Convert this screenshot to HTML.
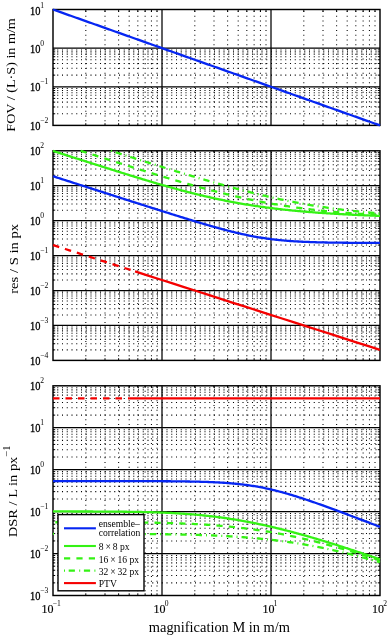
<!DOCTYPE html>
<html><head><meta charset="utf-8"><style>
html,body{margin:0;padding:0;background:#fff;}
body{width:388px;height:635px;overflow:hidden;}
svg{display:block;will-change:transform;}
text{font-family:"Liberation Serif",serif;fill:#000;}
.tk{font-size:12px;}
.sup{font-size:7.6px;}
.tkb{stroke:#000;stroke-width:0.3px;}
.tkb2{stroke:#000;stroke-width:0.15px;}
.sup2{font-size:9.5px;}
.lg{font-size:9.6px;}
.al{font-size:14.5px;}
.al2{font-size:12.8px;}
.al2b{font-size:13.2px;}
.al3{font-size:13.6px;}
</style></head><body>
<svg width="388" height="635" viewBox="0 0 388 635">
<rect width="388" height="635" fill="#fff"/>
<defs>
<clipPath id="c0"><rect x="50" y="6.5" width="333" height="121.9"/></clipPath>
<clipPath id="c1"><rect x="50" y="147.8" width="333" height="215.6"/></clipPath>
<clipPath id="c2"><rect x="50" y="382.8" width="333" height="215.7"/></clipPath>
</defs>
<path d="M85.81 125.4 V9.5 M105.01 125.4 V9.5 M118.62 125.4 V9.5 M129.19 125.4 V9.5 M137.82 125.4 V9.5 M145.12 125.4 V9.5 M151.44 125.4 V9.5 M157.01 125.4 V9.5 M194.81 125.4 V9.5 M214.01 125.4 V9.5 M227.62 125.4 V9.5 M238.19 125.4 V9.5 M246.82 125.4 V9.5 M254.12 125.4 V9.5 M260.44 125.4 V9.5 M266.01 125.4 V9.5 M303.81 125.4 V9.5 M323.01 125.4 V9.5 M336.62 125.4 V9.5 M347.19 125.4 V9.5 M355.82 125.4 V9.5 M363.12 125.4 V9.5 M369.44 125.4 V9.5 M375.01 125.4 V9.5" stroke="#000" stroke-width="1.05" stroke-dasharray="1.05 3.7" stroke-dashoffset="0.525" fill="none"/>
<path d="M53 75.14 H380 M53 68.33 H380 M53 63.51 H380 M53 59.76 H380 M53 56.7 H380 M53 54.12 H380 M53 51.88 H380 M53 49.9 H380 M53 113.77 H380 M53 106.97 H380 M53 102.14 H380 M53 98.4 H380 M53 95.34 H380 M53 92.75 H380 M53 90.51 H380 M53 88.53 H380" stroke="#000" stroke-width="1.05" stroke-dasharray="1.05 3.7" stroke-dashoffset="0.525" fill="none"/>
<path d="M162 125.4 V9.5 M271 125.4 V9.5 M53 48.13 H380 M53 86.77 H380" stroke="#000" stroke-width="1.25" fill="none"/>
<path d="M85.81 9.5 v2.2 M85.81 125.4 v-2.2 M105.01 9.5 v2.2 M105.01 125.4 v-2.2 M118.62 9.5 v2.2 M118.62 125.4 v-2.2 M129.19 9.5 v2.2 M129.19 125.4 v-2.2 M137.82 9.5 v2.2 M137.82 125.4 v-2.2 M145.12 9.5 v2.2 M145.12 125.4 v-2.2 M151.44 9.5 v2.2 M151.44 125.4 v-2.2 M157.01 9.5 v2.2 M157.01 125.4 v-2.2 M194.81 9.5 v2.2 M194.81 125.4 v-2.2 M214.01 9.5 v2.2 M214.01 125.4 v-2.2 M227.62 9.5 v2.2 M227.62 125.4 v-2.2 M238.19 9.5 v2.2 M238.19 125.4 v-2.2 M246.82 9.5 v2.2 M246.82 125.4 v-2.2 M254.12 9.5 v2.2 M254.12 125.4 v-2.2 M260.44 9.5 v2.2 M260.44 125.4 v-2.2 M266.01 9.5 v2.2 M266.01 125.4 v-2.2 M303.81 9.5 v2.2 M303.81 125.4 v-2.2 M323.01 9.5 v2.2 M323.01 125.4 v-2.2 M336.62 9.5 v2.2 M336.62 125.4 v-2.2 M347.19 9.5 v2.2 M347.19 125.4 v-2.2 M355.82 9.5 v2.2 M355.82 125.4 v-2.2 M363.12 9.5 v2.2 M363.12 125.4 v-2.2 M369.44 9.5 v2.2 M369.44 125.4 v-2.2 M375.01 9.5 v2.2 M375.01 125.4 v-2.2 M53 75.14 h2.2 M380 75.14 h-2.2 M53 68.33 h2.2 M380 68.33 h-2.2 M53 63.51 h2.2 M380 63.51 h-2.2 M53 59.76 h2.2 M380 59.76 h-2.2 M53 56.7 h2.2 M380 56.7 h-2.2 M53 54.12 h2.2 M380 54.12 h-2.2 M53 51.88 h2.2 M380 51.88 h-2.2 M53 49.9 h2.2 M380 49.9 h-2.2 M53 113.77 h2.2 M380 113.77 h-2.2 M53 106.97 h2.2 M380 106.97 h-2.2 M53 102.14 h2.2 M380 102.14 h-2.2 M53 98.4 h2.2 M380 98.4 h-2.2 M53 95.34 h2.2 M380 95.34 h-2.2 M53 92.75 h2.2 M380 92.75 h-2.2 M53 90.51 h2.2 M380 90.51 h-2.2 M53 88.53 h2.2 M380 88.53 h-2.2" stroke="#000" stroke-width="1" fill="none"/>
<rect x="53" y="9.5" width="327" height="115.9" fill="none" stroke="#000" stroke-width="1.45"/>
<path d="M85.81 360.4 V150.8 M105.01 360.4 V150.8 M118.62 360.4 V150.8 M129.19 360.4 V150.8 M137.82 360.4 V150.8 M145.12 360.4 V150.8 M151.44 360.4 V150.8 M157.01 360.4 V150.8 M194.81 360.4 V150.8 M214.01 360.4 V150.8 M227.62 360.4 V150.8 M238.19 360.4 V150.8 M246.82 360.4 V150.8 M254.12 360.4 V150.8 M260.44 360.4 V150.8 M266.01 360.4 V150.8 M303.81 360.4 V150.8 M323.01 360.4 V150.8 M336.62 360.4 V150.8 M347.19 360.4 V150.8 M355.82 360.4 V150.8 M363.12 360.4 V150.8 M369.44 360.4 V150.8 M375.01 360.4 V150.8" stroke="#000" stroke-width="1.05" stroke-dasharray="1.05 3.7" stroke-dashoffset="0.525" fill="none"/>
<path d="M53 175.22 H380 M53 169.07 H380 M53 164.7 H380 M53 161.32 H380 M53 158.55 H380 M53 156.21 H380 M53 154.19 H380 M53 152.4 H380 M53 210.15 H380 M53 204 H380 M53 199.63 H380 M53 196.25 H380 M53 193.48 H380 M53 191.14 H380 M53 189.12 H380 M53 187.33 H380 M53 245.08 H380 M53 238.93 H380 M53 234.57 H380 M53 231.18 H380 M53 228.42 H380 M53 226.08 H380 M53 224.05 H380 M53 222.27 H380 M53 280.02 H380 M53 273.87 H380 M53 269.5 H380 M53 266.12 H380 M53 263.35 H380 M53 261.01 H380 M53 258.99 H380 M53 257.2 H380 M53 314.95 H380 M53 308.8 H380 M53 304.43 H380 M53 301.05 H380 M53 298.28 H380 M53 295.94 H380 M53 293.92 H380 M53 292.13 H380 M53 349.88 H380 M53 343.73 H380 M53 339.37 H380 M53 335.98 H380 M53 333.22 H380 M53 330.88 H380 M53 328.85 H380 M53 327.07 H380" stroke="#000" stroke-width="1.05" stroke-dasharray="1.05 3.7" stroke-dashoffset="0.525" fill="none"/>
<path d="M162 360.4 V150.8 M271 360.4 V150.8 M53 185.73 H380 M53 220.67 H380 M53 255.6 H380 M53 290.53 H380 M53 325.47 H380" stroke="#000" stroke-width="1.25" fill="none"/>
<path d="M85.81 150.8 v2.2 M85.81 360.4 v-2.2 M105.01 150.8 v2.2 M105.01 360.4 v-2.2 M118.62 150.8 v2.2 M118.62 360.4 v-2.2 M129.19 150.8 v2.2 M129.19 360.4 v-2.2 M137.82 150.8 v2.2 M137.82 360.4 v-2.2 M145.12 150.8 v2.2 M145.12 360.4 v-2.2 M151.44 150.8 v2.2 M151.44 360.4 v-2.2 M157.01 150.8 v2.2 M157.01 360.4 v-2.2 M194.81 150.8 v2.2 M194.81 360.4 v-2.2 M214.01 150.8 v2.2 M214.01 360.4 v-2.2 M227.62 150.8 v2.2 M227.62 360.4 v-2.2 M238.19 150.8 v2.2 M238.19 360.4 v-2.2 M246.82 150.8 v2.2 M246.82 360.4 v-2.2 M254.12 150.8 v2.2 M254.12 360.4 v-2.2 M260.44 150.8 v2.2 M260.44 360.4 v-2.2 M266.01 150.8 v2.2 M266.01 360.4 v-2.2 M303.81 150.8 v2.2 M303.81 360.4 v-2.2 M323.01 150.8 v2.2 M323.01 360.4 v-2.2 M336.62 150.8 v2.2 M336.62 360.4 v-2.2 M347.19 150.8 v2.2 M347.19 360.4 v-2.2 M355.82 150.8 v2.2 M355.82 360.4 v-2.2 M363.12 150.8 v2.2 M363.12 360.4 v-2.2 M369.44 150.8 v2.2 M369.44 360.4 v-2.2 M375.01 150.8 v2.2 M375.01 360.4 v-2.2 M53 175.22 h2.2 M380 175.22 h-2.2 M53 169.07 h2.2 M380 169.07 h-2.2 M53 164.7 h2.2 M380 164.7 h-2.2 M53 161.32 h2.2 M380 161.32 h-2.2 M53 158.55 h2.2 M380 158.55 h-2.2 M53 156.21 h2.2 M380 156.21 h-2.2 M53 154.19 h2.2 M380 154.19 h-2.2 M53 152.4 h2.2 M380 152.4 h-2.2 M53 210.15 h2.2 M380 210.15 h-2.2 M53 204 h2.2 M380 204 h-2.2 M53 199.63 h2.2 M380 199.63 h-2.2 M53 196.25 h2.2 M380 196.25 h-2.2 M53 193.48 h2.2 M380 193.48 h-2.2 M53 191.14 h2.2 M380 191.14 h-2.2 M53 189.12 h2.2 M380 189.12 h-2.2 M53 187.33 h2.2 M380 187.33 h-2.2 M53 245.08 h2.2 M380 245.08 h-2.2 M53 238.93 h2.2 M380 238.93 h-2.2 M53 234.57 h2.2 M380 234.57 h-2.2 M53 231.18 h2.2 M380 231.18 h-2.2 M53 228.42 h2.2 M380 228.42 h-2.2 M53 226.08 h2.2 M380 226.08 h-2.2 M53 224.05 h2.2 M380 224.05 h-2.2 M53 222.27 h2.2 M380 222.27 h-2.2 M53 280.02 h2.2 M380 280.02 h-2.2 M53 273.87 h2.2 M380 273.87 h-2.2 M53 269.5 h2.2 M380 269.5 h-2.2 M53 266.12 h2.2 M380 266.12 h-2.2 M53 263.35 h2.2 M380 263.35 h-2.2 M53 261.01 h2.2 M380 261.01 h-2.2 M53 258.99 h2.2 M380 258.99 h-2.2 M53 257.2 h2.2 M380 257.2 h-2.2 M53 314.95 h2.2 M380 314.95 h-2.2 M53 308.8 h2.2 M380 308.8 h-2.2 M53 304.43 h2.2 M380 304.43 h-2.2 M53 301.05 h2.2 M380 301.05 h-2.2 M53 298.28 h2.2 M380 298.28 h-2.2 M53 295.94 h2.2 M380 295.94 h-2.2 M53 293.92 h2.2 M380 293.92 h-2.2 M53 292.13 h2.2 M380 292.13 h-2.2 M53 349.88 h2.2 M380 349.88 h-2.2 M53 343.73 h2.2 M380 343.73 h-2.2 M53 339.37 h2.2 M380 339.37 h-2.2 M53 335.98 h2.2 M380 335.98 h-2.2 M53 333.22 h2.2 M380 333.22 h-2.2 M53 330.88 h2.2 M380 330.88 h-2.2 M53 328.85 h2.2 M380 328.85 h-2.2 M53 327.07 h2.2 M380 327.07 h-2.2" stroke="#000" stroke-width="1" fill="none"/>
<rect x="53" y="150.8" width="327" height="209.6" fill="none" stroke="#000" stroke-width="1.45"/>
<path d="M85.81 595.5 V385.8 M105.01 595.5 V385.8 M118.62 595.5 V385.8 M129.19 595.5 V385.8 M137.82 595.5 V385.8 M145.12 595.5 V385.8 M151.44 595.5 V385.8 M157.01 595.5 V385.8 M194.81 595.5 V385.8 M214.01 595.5 V385.8 M227.62 595.5 V385.8 M238.19 595.5 V385.8 M246.82 595.5 V385.8 M254.12 595.5 V385.8 M260.44 595.5 V385.8 M266.01 595.5 V385.8 M303.81 595.5 V385.8 M323.01 595.5 V385.8 M336.62 595.5 V385.8 M347.19 595.5 V385.8 M355.82 595.5 V385.8 M363.12 595.5 V385.8 M369.44 595.5 V385.8 M375.01 595.5 V385.8" stroke="#000" stroke-width="1.05" stroke-dasharray="1.05 3.7" stroke-dashoffset="0.525" fill="none"/>
<path d="M53 415.11 H380 M53 407.73 H380 M53 402.49 H380 M53 398.43 H380 M53 395.1 H380 M53 392.3 H380 M53 389.86 H380 M53 387.72 H380 M53 457.05 H380 M53 449.67 H380 M53 444.43 H380 M53 440.37 H380 M53 437.04 H380 M53 434.24 H380 M53 431.8 H380 M53 429.66 H380 M53 498.99 H380 M53 491.61 H380 M53 486.37 H380 M53 482.31 H380 M53 478.98 H380 M53 476.18 H380 M53 473.74 H380 M53 471.6 H380 M53 540.93 H380 M53 533.55 H380 M53 528.31 H380 M53 524.25 H380 M53 520.92 H380 M53 518.12 H380 M53 515.68 H380 M53 513.54 H380 M53 582.87 H380 M53 575.49 H380 M53 570.25 H380 M53 566.19 H380 M53 562.86 H380 M53 560.06 H380 M53 557.62 H380 M53 555.48 H380" stroke="#000" stroke-width="1.05" stroke-dasharray="1.05 3.7" stroke-dashoffset="0.525" fill="none"/>
<path d="M162 595.5 V385.8 M271 595.5 V385.8 M53 427.74 H380 M53 469.68 H380 M53 511.62 H380 M53 553.56 H380" stroke="#000" stroke-width="1.25" fill="none"/>
<path d="M85.81 385.8 v2.2 M85.81 595.5 v-2.2 M105.01 385.8 v2.2 M105.01 595.5 v-2.2 M118.62 385.8 v2.2 M118.62 595.5 v-2.2 M129.19 385.8 v2.2 M129.19 595.5 v-2.2 M137.82 385.8 v2.2 M137.82 595.5 v-2.2 M145.12 385.8 v2.2 M145.12 595.5 v-2.2 M151.44 385.8 v2.2 M151.44 595.5 v-2.2 M157.01 385.8 v2.2 M157.01 595.5 v-2.2 M194.81 385.8 v2.2 M194.81 595.5 v-2.2 M214.01 385.8 v2.2 M214.01 595.5 v-2.2 M227.62 385.8 v2.2 M227.62 595.5 v-2.2 M238.19 385.8 v2.2 M238.19 595.5 v-2.2 M246.82 385.8 v2.2 M246.82 595.5 v-2.2 M254.12 385.8 v2.2 M254.12 595.5 v-2.2 M260.44 385.8 v2.2 M260.44 595.5 v-2.2 M266.01 385.8 v2.2 M266.01 595.5 v-2.2 M303.81 385.8 v2.2 M303.81 595.5 v-2.2 M323.01 385.8 v2.2 M323.01 595.5 v-2.2 M336.62 385.8 v2.2 M336.62 595.5 v-2.2 M347.19 385.8 v2.2 M347.19 595.5 v-2.2 M355.82 385.8 v2.2 M355.82 595.5 v-2.2 M363.12 385.8 v2.2 M363.12 595.5 v-2.2 M369.44 385.8 v2.2 M369.44 595.5 v-2.2 M375.01 385.8 v2.2 M375.01 595.5 v-2.2 M53 415.11 h2.2 M380 415.11 h-2.2 M53 407.73 h2.2 M380 407.73 h-2.2 M53 402.49 h2.2 M380 402.49 h-2.2 M53 398.43 h2.2 M380 398.43 h-2.2 M53 395.1 h2.2 M380 395.1 h-2.2 M53 392.3 h2.2 M380 392.3 h-2.2 M53 389.86 h2.2 M380 389.86 h-2.2 M53 387.72 h2.2 M380 387.72 h-2.2 M53 457.05 h2.2 M380 457.05 h-2.2 M53 449.67 h2.2 M380 449.67 h-2.2 M53 444.43 h2.2 M380 444.43 h-2.2 M53 440.37 h2.2 M380 440.37 h-2.2 M53 437.04 h2.2 M380 437.04 h-2.2 M53 434.24 h2.2 M380 434.24 h-2.2 M53 431.8 h2.2 M380 431.8 h-2.2 M53 429.66 h2.2 M380 429.66 h-2.2 M53 498.99 h2.2 M380 498.99 h-2.2 M53 491.61 h2.2 M380 491.61 h-2.2 M53 486.37 h2.2 M380 486.37 h-2.2 M53 482.31 h2.2 M380 482.31 h-2.2 M53 478.98 h2.2 M380 478.98 h-2.2 M53 476.18 h2.2 M380 476.18 h-2.2 M53 473.74 h2.2 M380 473.74 h-2.2 M53 471.6 h2.2 M380 471.6 h-2.2 M53 540.93 h2.2 M380 540.93 h-2.2 M53 533.55 h2.2 M380 533.55 h-2.2 M53 528.31 h2.2 M380 528.31 h-2.2 M53 524.25 h2.2 M380 524.25 h-2.2 M53 520.92 h2.2 M380 520.92 h-2.2 M53 518.12 h2.2 M380 518.12 h-2.2 M53 515.68 h2.2 M380 515.68 h-2.2 M53 513.54 h2.2 M380 513.54 h-2.2 M53 582.87 h2.2 M380 582.87 h-2.2 M53 575.49 h2.2 M380 575.49 h-2.2 M53 570.25 h2.2 M380 570.25 h-2.2 M53 566.19 h2.2 M380 566.19 h-2.2 M53 562.86 h2.2 M380 562.86 h-2.2 M53 560.06 h2.2 M380 560.06 h-2.2 M53 557.62 h2.2 M380 557.62 h-2.2 M53 555.48 h2.2 M380 555.48 h-2.2" stroke="#000" stroke-width="1" fill="none"/>
<rect x="53" y="385.8" width="327" height="209.7" fill="none" stroke="#000" stroke-width="1.45"/>
<g clip-path="url(#c0)">
<path d="M53 9.5 L54.36 9.98 L55.73 10.47 L57.09 10.95 L58.45 11.43 L59.81 11.91 L61.17 12.4 L62.54 12.88 L63.9 13.36 L65.26 13.85 L66.62 14.33 L67.99 14.81 L69.35 15.3 L70.71 15.78 L72.08 16.26 L73.44 16.74 L74.8 17.23 L76.16 17.71 L77.53 18.19 L78.89 18.68 L80.25 19.16 L81.61 19.64 L82.97 20.12 L84.34 20.61 L85.7 21.09 L87.06 21.57 L88.42 22.06 L89.79 22.54 L91.15 23.02 L92.51 23.5 L93.88 23.99 L95.24 24.47 L96.6 24.95 L97.96 25.44 L99.33 25.92 L100.69 26.4 L102.05 26.88 L103.41 27.37 L104.78 27.85 L106.14 28.33 L107.5 28.82 L108.86 29.3 L110.22 29.78 L111.59 30.27 L112.95 30.75 L114.31 31.23 L115.67 31.71 L117.04 32.2 L118.4 32.68 L119.76 33.16 L121.12 33.65 L122.49 34.13 L123.85 34.61 L125.21 35.09 L126.58 35.58 L127.94 36.06 L129.3 36.54 L130.66 37.03 L132.02 37.51 L133.39 37.99 L134.75 38.48 L136.11 38.96 L137.48 39.44 L138.84 39.92 L140.2 40.41 L141.56 40.89 L142.93 41.37 L144.29 41.86 L145.65 42.34 L147.01 42.82 L148.38 43.3 L149.74 43.79 L151.1 44.27 L152.46 44.75 L153.82 45.24 L155.19 45.72 L156.55 46.2 L157.91 46.68 L159.27 47.17 L160.64 47.65 L162 48.13 L163.36 48.62 L164.72 49.1 L166.09 49.58 L167.45 50.06 L168.81 50.55 L170.18 51.03 L171.54 51.51 L172.9 52 L174.26 52.48 L175.62 52.96 L176.99 53.45 L178.35 53.93 L179.71 54.41 L181.08 54.89 L182.44 55.38 L183.8 55.86 L185.16 56.34 L186.53 56.83 L187.89 57.31 L189.25 57.79 L190.61 58.27 L191.97 58.76 L193.34 59.24 L194.7 59.72 L196.06 60.21 L197.42 60.69 L198.79 61.17 L200.15 61.66 L201.51 62.14 L202.88 62.62 L204.24 63.1 L205.6 63.59 L206.96 64.07 L208.33 64.55 L209.69 65.04 L211.05 65.52 L212.41 66 L213.78 66.48 L215.14 66.97 L216.5 67.45 L217.86 67.93 L219.22 68.42 L220.59 68.9 L221.95 69.38 L223.31 69.86 L224.67 70.35 L226.04 70.83 L227.4 71.31 L228.76 71.8 L230.12 72.28 L231.49 72.76 L232.85 73.25 L234.21 73.73 L235.58 74.21 L236.94 74.69 L238.3 75.18 L239.66 75.66 L241.03 76.14 L242.39 76.63 L243.75 77.11 L245.11 77.59 L246.47 78.07 L247.84 78.56 L249.2 79.04 L250.56 79.52 L251.92 80.01 L253.29 80.49 L254.65 80.97 L256.01 81.45 L257.38 81.94 L258.74 82.42 L260.1 82.9 L261.46 83.39 L262.83 83.87 L264.19 84.35 L265.55 84.83 L266.91 85.32 L268.27 85.8 L269.64 86.28 L271 86.77 L272.36 87.25 L273.73 87.73 L275.09 88.22 L276.45 88.7 L277.81 89.18 L279.18 89.66 L280.54 90.15 L281.9 90.63 L283.26 91.11 L284.62 91.6 L285.99 92.08 L287.35 92.56 L288.71 93.04 L290.07 93.53 L291.44 94.01 L292.8 94.49 L294.16 94.98 L295.52 95.46 L296.89 95.94 L298.25 96.42 L299.61 96.91 L300.98 97.39 L302.34 97.87 L303.7 98.36 L305.06 98.84 L306.43 99.32 L307.79 99.81 L309.15 100.29 L310.51 100.77 L311.88 101.25 L313.24 101.74 L314.6 102.22 L315.96 102.7 L317.32 103.19 L318.69 103.67 L320.05 104.15 L321.41 104.63 L322.78 105.12 L324.14 105.6 L325.5 106.08 L326.86 106.57 L328.22 107.05 L329.59 107.53 L330.95 108.01 L332.31 108.5 L333.68 108.98 L335.04 109.46 L336.4 109.95 L337.76 110.43 L339.12 110.91 L340.49 111.4 L341.85 111.88 L343.21 112.36 L344.57 112.84 L345.94 113.33 L347.3 113.81 L348.66 114.29 L350.03 114.78 L351.39 115.26 L352.75 115.74 L354.11 116.22 L355.47 116.71 L356.84 117.19 L358.2 117.67 L359.56 118.16 L360.93 118.64 L362.29 119.12 L363.65 119.61 L365.01 120.09 L366.38 120.57 L367.74 121.05 L369.1 121.54 L370.46 122.02 L371.82 122.5 L373.19 122.99 L374.55 123.47 L375.91 123.95 L377.28 124.43 L378.64 124.92 L380 125.4" stroke="#0626f2" stroke-width="2.3" fill="none"/>
</g>
<g clip-path="url(#c1)">
<path d="M110.93 150.8 L111.59 151.01 L112.95 151.44 L114.31 151.88 L115.67 152.31 L117.04 152.75 L118.4 153.18 L119.76 153.61 L121.12 154.05 L122.49 154.48 L123.85 154.91 L125.21 155.35 L126.58 155.78 L127.94 156.21 L129.3 156.64 L130.66 157.08 L132.02 157.51 L133.39 157.94 L134.75 158.37 L136.11 158.8 L137.48 159.23 L138.84 159.66 L140.2 160.09 L141.56 160.52 L142.93 160.95 L144.29 161.38 L145.65 161.81 L147.01 162.24 L148.38 162.67 L149.74 163.09 L151.1 163.52 L152.46 163.95 L153.82 164.38 L155.19 164.8 L156.55 165.23 L157.91 165.65 L159.27 166.08 L160.64 166.5 L162 166.92 L163.36 167.35 L164.72 167.77 L166.09 168.19 L167.45 168.61 L168.81 169.03 L170.18 169.45 L171.54 169.87 L172.9 170.29 L174.26 170.71 L175.62 171.13 L176.99 171.54 L178.35 171.96 L179.71 172.37 L181.08 172.79 L182.44 173.2 L183.8 173.61 L185.16 174.02 L186.53 174.43 L187.89 174.84 L189.25 175.25 L190.61 175.66 L191.97 176.07 L193.34 176.47 L194.7 176.88 L196.06 177.28 L197.42 177.68 L198.79 178.09 L200.15 178.49 L201.51 178.89 L202.88 179.29 L204.24 179.68 L205.6 180.08 L206.96 180.47 L208.33 180.87 L209.69 181.26 L211.05 181.65 L212.41 182.04 L213.78 182.43 L215.14 182.82 L216.5 183.2 L217.86 183.59 L219.22 183.97 L220.59 184.35 L221.95 184.73 L223.31 185.11 L224.67 185.49 L226.04 185.86 L227.4 186.24 L228.76 186.61 L230.12 186.98 L231.49 187.35 L232.85 187.72 L234.21 188.08 L235.58 188.45 L236.94 188.81 L238.3 189.17 L239.66 189.53 L241.03 189.88 L242.39 190.24 L243.75 190.59 L245.11 190.94 L246.47 191.29 L247.84 191.64 L249.2 191.98 L250.56 192.33 L251.92 192.67 L253.29 193.01 L254.65 193.34 L256.01 193.68 L257.38 194.01 L258.74 194.34 L260.1 194.67 L261.46 195 L262.83 195.32 L264.19 195.64 L265.55 195.96 L266.91 196.28 L268.27 196.59 L269.64 196.9 L271 197.21 L272.36 197.52 L273.73 197.82 L275.09 198.12 L276.45 198.42 L277.81 198.72 L279.18 199.02 L280.54 199.31 L281.9 199.6 L283.26 199.88 L284.62 200.17 L285.99 200.45 L287.35 200.73 L288.71 201 L290.07 201.28 L291.44 201.55 L292.8 201.82 L294.16 202.08 L295.52 202.34 L296.89 202.6 L298.25 202.86 L299.61 203.11 L300.98 203.37 L302.34 203.61 L303.7 203.86 L305.06 204.1 L306.43 204.34 L307.79 204.58 L309.15 204.82 L310.51 205.05 L311.88 205.28 L313.24 205.5 L314.6 205.73 L315.96 205.95 L317.32 206.17 L318.69 206.38 L320.05 206.59 L321.41 206.8 L322.78 207.01 L324.14 207.21 L325.5 207.42 L326.86 207.61 L328.22 207.81 L329.59 208 L330.95 208.19 L332.31 208.38 L333.68 208.57 L335.04 208.75 L336.4 208.93 L337.76 209.11 L339.12 209.28 L340.49 209.46 L341.85 209.62 L343.21 209.79 L344.57 209.96 L345.94 210.12 L347.3 210.28 L348.66 210.44 L350.03 210.59 L351.39 210.74 L352.75 210.89 L354.11 211.04 L355.47 211.19 L356.84 211.33 L358.2 211.47 L359.56 211.61 L360.93 211.75 L362.29 211.88 L363.65 212.01 L365.01 212.14 L366.38 212.27 L367.74 212.4 L369.1 212.52 L370.46 212.64 L371.82 212.76 L373.19 212.88 L374.55 213 L375.91 213.11 L377.28 213.22 L378.64 213.34 L380 213.44" stroke="#34f214" stroke-width="2.3" fill="none" stroke-dasharray="1 4 6.3 4"/>
<path d="M80.64 150.8 L81.61 151.11 L82.97 151.55 L84.34 151.98 L85.7 152.42 L87.06 152.85 L88.42 153.29 L89.79 153.72 L91.15 154.16 L92.51 154.59 L93.88 155.02 L95.24 155.46 L96.6 155.89 L97.96 156.33 L99.33 156.76 L100.69 157.19 L102.05 157.63 L103.41 158.06 L104.78 158.5 L106.14 158.93 L107.5 159.36 L108.86 159.79 L110.22 160.23 L111.59 160.66 L112.95 161.09 L114.31 161.52 L115.67 161.95 L117.04 162.39 L118.4 162.82 L119.76 163.25 L121.12 163.68 L122.49 164.11 L123.85 164.54 L125.21 164.97 L126.58 165.4 L127.94 165.83 L129.3 166.25 L130.66 166.68 L132.02 167.11 L133.39 167.54 L134.75 167.96 L136.11 168.39 L137.48 168.81 L138.84 169.24 L140.2 169.66 L141.56 170.09 L142.93 170.51 L144.29 170.93 L145.65 171.36 L147.01 171.78 L148.38 172.2 L149.74 172.62 L151.1 173.04 L152.46 173.46 L153.82 173.87 L155.19 174.29 L156.55 174.71 L157.91 175.12 L159.27 175.53 L160.64 175.95 L162 176.36 L163.36 176.77 L164.72 177.18 L166.09 177.59 L167.45 178 L168.81 178.4 L170.18 178.81 L171.54 179.21 L172.9 179.62 L174.26 180.02 L175.62 180.42 L176.99 180.82 L178.35 181.22 L179.71 181.61 L181.08 182.01 L182.44 182.4 L183.8 182.79 L185.16 183.18 L186.53 183.57 L187.89 183.96 L189.25 184.35 L190.61 184.73 L191.97 185.11 L193.34 185.49 L194.7 185.87 L196.06 186.25 L197.42 186.63 L198.79 187 L200.15 187.37 L201.51 187.74 L202.88 188.11 L204.24 188.48 L205.6 188.84 L206.96 189.2 L208.33 189.56 L209.69 189.92 L211.05 190.28 L212.41 190.63 L213.78 190.99 L215.14 191.33 L216.5 191.68 L217.86 192.03 L219.22 192.37 L220.59 192.71 L221.95 193.05 L223.31 193.39 L224.67 193.72 L226.04 194.05 L227.4 194.38 L228.76 194.71 L230.12 195.03 L231.49 195.35 L232.85 195.67 L234.21 195.99 L235.58 196.31 L236.94 196.62 L238.3 196.93 L239.66 197.23 L241.03 197.54 L242.39 197.84 L243.75 198.14 L245.11 198.43 L246.47 198.73 L247.84 199.02 L249.2 199.31 L250.56 199.59 L251.92 199.87 L253.29 200.15 L254.65 200.43 L256.01 200.71 L257.38 200.98 L258.74 201.25 L260.1 201.51 L261.46 201.78 L262.83 202.04 L264.19 202.29 L265.55 202.55 L266.91 202.8 L268.27 203.05 L269.64 203.29 L271 203.54 L272.36 203.78 L273.73 204.01 L275.09 204.25 L276.45 204.48 L277.81 204.71 L279.18 204.94 L280.54 205.16 L281.9 205.38 L283.26 205.6 L284.62 205.81 L285.99 206.02 L287.35 206.23 L288.71 206.44 L290.07 206.64 L291.44 206.84 L292.8 207.04 L294.16 207.24 L295.52 207.43 L296.89 207.62 L298.25 207.81 L299.61 207.99 L300.98 208.17 L302.34 208.35 L303.7 208.53 L305.06 208.7 L306.43 208.87 L307.79 209.04 L309.15 209.21 L310.51 209.37 L311.88 209.53 L313.24 209.69 L314.6 209.85 L315.96 210 L317.32 210.16 L318.69 210.3 L320.05 210.45 L321.41 210.6 L322.78 210.74 L324.14 210.88 L325.5 211.02 L326.86 211.15 L328.22 211.29 L329.59 211.42 L330.95 211.55 L332.31 211.67 L333.68 211.8 L335.04 211.92 L336.4 212.04 L337.76 212.16 L339.12 212.28 L340.49 212.39 L341.85 212.51 L343.21 212.62 L344.57 212.73 L345.94 212.84 L347.3 212.94 L348.66 213.05 L350.03 213.15 L351.39 213.25 L352.75 213.35 L354.11 213.45 L355.47 213.54 L356.84 213.64 L358.2 213.73 L359.56 213.82 L360.93 213.91 L362.29 214 L363.65 214.09 L365.01 214.17 L366.38 214.26 L367.74 214.34 L369.1 214.42 L370.46 214.5 L371.82 214.58 L373.19 214.66 L374.55 214.74 L375.91 214.81 L377.28 214.89 L378.64 214.96 L380 215.03" stroke="#34f214" stroke-width="2.3" fill="none" stroke-dasharray="6.2 6.2"/>
<path d="M53 150.94 L54.36 151.37 L55.73 151.81 L57.09 152.24 L58.45 152.68 L59.81 153.12 L61.17 153.55 L62.54 153.99 L63.9 154.42 L65.26 154.86 L66.62 155.29 L67.99 155.73 L69.35 156.16 L70.71 156.6 L72.08 157.03 L73.44 157.47 L74.8 157.9 L76.16 158.34 L77.53 158.77 L78.89 159.21 L80.25 159.64 L81.61 160.08 L82.97 160.51 L84.34 160.94 L85.7 161.38 L87.06 161.81 L88.42 162.24 L89.79 162.68 L91.15 163.11 L92.51 163.54 L93.88 163.98 L95.24 164.41 L96.6 164.84 L97.96 165.27 L99.33 165.7 L100.69 166.14 L102.05 166.57 L103.41 167 L104.78 167.43 L106.14 167.86 L107.5 168.29 L108.86 168.72 L110.22 169.15 L111.59 169.58 L112.95 170.01 L114.31 170.43 L115.67 170.86 L117.04 171.29 L118.4 171.71 L119.76 172.14 L121.12 172.57 L122.49 172.99 L123.85 173.42 L125.21 173.84 L126.58 174.26 L127.94 174.68 L129.3 175.11 L130.66 175.53 L132.02 175.95 L133.39 176.37 L134.75 176.79 L136.11 177.2 L137.48 177.62 L138.84 178.04 L140.2 178.45 L141.56 178.86 L142.93 179.28 L144.29 179.69 L145.65 180.1 L147.01 180.51 L148.38 180.92 L149.74 181.32 L151.1 181.73 L152.46 182.13 L153.82 182.54 L155.19 182.94 L156.55 183.34 L157.91 183.74 L159.27 184.13 L160.64 184.53 L162 184.92 L163.36 185.31 L164.72 185.7 L166.09 186.09 L167.45 186.48 L168.81 186.86 L170.18 187.24 L171.54 187.62 L172.9 188 L174.26 188.38 L175.62 188.75 L176.99 189.13 L178.35 189.49 L179.71 189.86 L181.08 190.23 L182.44 190.59 L183.8 190.95 L185.16 191.31 L186.53 191.66 L187.89 192.02 L189.25 192.37 L190.61 192.72 L191.97 193.06 L193.34 193.4 L194.7 193.74 L196.06 194.08 L197.42 194.41 L198.79 194.75 L200.15 195.08 L201.51 195.4 L202.88 195.73 L204.24 196.05 L205.6 196.36 L206.96 196.68 L208.33 196.99 L209.69 197.3 L211.05 197.61 L212.41 197.91 L213.78 198.21 L215.14 198.51 L216.5 198.8 L217.86 199.09 L219.22 199.38 L220.59 199.66 L221.95 199.95 L223.31 200.22 L224.67 200.5 L226.04 200.77 L227.4 201.04 L228.76 201.31 L230.12 201.57 L231.49 201.83 L232.85 202.09 L234.21 202.35 L235.58 202.6 L236.94 202.84 L238.3 203.09 L239.66 203.33 L241.03 203.57 L242.39 203.81 L243.75 204.04 L245.11 204.27 L246.47 204.5 L247.84 204.72 L249.2 204.94 L250.56 205.16 L251.92 205.37 L253.29 205.58 L254.65 205.79 L256.01 206 L257.38 206.2 L258.74 206.4 L260.1 206.6 L261.46 206.79 L262.83 206.99 L264.19 207.18 L265.55 207.36 L266.91 207.54 L268.27 207.73 L269.64 207.9 L271 208.08 L272.36 208.25 L273.73 208.42 L275.09 208.59 L276.45 208.75 L277.81 208.91 L279.18 209.07 L280.54 209.23 L281.9 209.38 L283.26 209.54 L284.62 209.69 L285.99 209.83 L287.35 209.98 L288.71 210.12 L290.07 210.26 L291.44 210.4 L292.8 210.53 L294.16 210.67 L295.52 210.8 L296.89 210.93 L298.25 211.06 L299.61 211.18 L300.98 211.3 L302.34 211.42 L303.7 211.54 L305.06 211.66 L306.43 211.77 L307.79 211.89 L309.15 212 L310.51 212.11 L311.88 212.22 L313.24 212.32 L314.6 212.43 L315.96 212.53 L317.32 212.63 L318.69 212.73 L320.05 212.82 L321.41 212.92 L322.78 213.01 L324.14 213.11 L325.5 213.2 L326.86 213.29 L328.22 213.38 L329.59 213.46 L330.95 213.55 L332.31 213.63 L333.68 213.71 L335.04 213.8 L336.4 213.88 L337.76 213.95 L339.12 214.03 L340.49 214.11 L341.85 214.18 L343.21 214.26 L344.57 214.33 L345.94 214.4 L347.3 214.47 L348.66 214.54 L350.03 214.61 L351.39 214.68 L352.75 214.74 L354.11 214.81 L355.47 214.87 L356.84 214.94 L358.2 215 L359.56 215.06 L360.93 215.12 L362.29 215.18 L363.65 215.24 L365.01 215.3 L366.38 215.36 L367.74 215.41 L369.1 215.47 L370.46 215.53 L371.82 215.58 L373.19 215.63 L374.55 215.69 L375.91 215.74 L377.28 215.79 L378.64 215.84 L380 215.89" stroke="#34f214" stroke-width="2.3" fill="none"/>
<path d="M53 176.24 L54.36 176.67 L55.73 177.11 L57.09 177.55 L58.45 177.98 L59.81 178.42 L61.17 178.86 L62.54 179.29 L63.9 179.73 L65.26 180.17 L66.62 180.6 L67.99 181.04 L69.35 181.47 L70.71 181.91 L72.08 182.35 L73.44 182.78 L74.8 183.22 L76.16 183.66 L77.53 184.09 L78.89 184.53 L80.25 184.97 L81.61 185.4 L82.97 185.84 L84.34 186.28 L85.7 186.71 L87.06 187.15 L88.42 187.59 L89.79 188.02 L91.15 188.46 L92.51 188.89 L93.88 189.33 L95.24 189.77 L96.6 190.2 L97.96 190.64 L99.33 191.08 L100.69 191.51 L102.05 191.95 L103.41 192.38 L104.78 192.82 L106.14 193.26 L107.5 193.69 L108.86 194.13 L110.22 194.56 L111.59 195 L112.95 195.44 L114.31 195.87 L115.67 196.31 L117.04 196.74 L118.4 197.18 L119.76 197.61 L121.12 198.05 L122.49 198.49 L123.85 198.92 L125.21 199.36 L126.58 199.79 L127.94 200.23 L129.3 200.66 L130.66 201.1 L132.02 201.53 L133.39 201.97 L134.75 202.4 L136.11 202.84 L137.48 203.27 L138.84 203.7 L140.2 204.14 L141.56 204.57 L142.93 205.01 L144.29 205.44 L145.65 205.87 L147.01 206.31 L148.38 206.74 L149.74 207.17 L151.1 207.6 L152.46 208.04 L153.82 208.47 L155.19 208.9 L156.55 209.33 L157.91 209.76 L159.27 210.2 L160.64 210.63 L162 211.06 L163.36 211.49 L164.72 211.92 L166.09 212.35 L167.45 212.77 L168.81 213.2 L170.18 213.63 L171.54 214.06 L172.9 214.48 L174.26 214.91 L175.62 215.34 L176.99 215.76 L178.35 216.18 L179.71 216.61 L181.08 217.03 L182.44 217.45 L183.8 217.87 L185.16 218.29 L186.53 218.71 L187.89 219.13 L189.25 219.55 L190.61 219.97 L191.97 220.38 L193.34 220.79 L194.7 221.21 L196.06 221.62 L197.42 222.03 L198.79 222.44 L200.15 222.84 L201.51 223.25 L202.88 223.65 L204.24 224.05 L205.6 224.45 L206.96 224.85 L208.33 225.25 L209.69 225.64 L211.05 226.03 L212.41 226.42 L213.78 226.8 L215.14 227.19 L216.5 227.57 L217.86 227.95 L219.22 228.32 L220.59 228.69 L221.95 229.06 L223.31 229.43 L224.67 229.79 L226.04 230.15 L227.4 230.5 L228.76 230.85 L230.12 231.2 L231.49 231.54 L232.85 231.88 L234.21 232.21 L235.58 232.54 L236.94 232.86 L238.3 233.18 L239.66 233.49 L241.03 233.8 L242.39 234.11 L243.75 234.4 L245.11 234.7 L246.47 234.98 L247.84 235.27 L249.2 235.54 L250.56 235.81 L251.92 236.07 L253.29 236.33 L254.65 236.58 L256.01 236.83 L257.38 237.07 L258.74 237.3 L260.1 237.53 L261.46 237.75 L262.83 237.96 L264.19 238.17 L265.55 238.37 L266.91 238.57 L268.27 238.75 L269.64 238.94 L271 239.11 L272.36 239.29 L273.73 239.45 L275.09 239.61 L276.45 239.76 L277.81 239.91 L279.18 240.05 L280.54 240.19 L281.9 240.32 L283.26 240.45 L284.62 240.57 L285.99 240.68 L287.35 240.79 L288.71 240.9 L290.07 241 L291.44 241.1 L292.8 241.19 L294.16 241.28 L295.52 241.37 L296.89 241.45 L298.25 241.52 L299.61 241.6 L300.98 241.67 L302.34 241.73 L303.7 241.8 L305.06 241.86 L306.43 241.92 L307.79 241.97 L309.15 242.02 L310.51 242.07 L311.88 242.12 L313.24 242.17 L314.6 242.21 L315.96 242.25 L317.32 242.29 L318.69 242.32 L320.05 242.36 L321.41 242.39 L322.78 242.42 L324.14 242.45 L325.5 242.48 L326.86 242.5 L328.22 242.53 L329.59 242.55 L330.95 242.58 L332.31 242.6 L333.68 242.62 L335.04 242.64 L336.4 242.65 L337.76 242.67 L339.12 242.69 L340.49 242.7 L341.85 242.72 L343.21 242.73 L344.57 242.74 L345.94 242.76 L347.3 242.77 L348.66 242.78 L350.03 242.79 L351.39 242.8 L352.75 242.81 L354.11 242.82 L355.47 242.82 L356.84 242.83 L358.2 242.84 L359.56 242.85 L360.93 242.85 L362.29 242.86 L363.65 242.86 L365.01 242.87 L366.38 242.87 L367.74 242.88 L369.1 242.88 L370.46 242.89 L371.82 242.89 L373.19 242.9 L374.55 242.9 L375.91 242.9 L377.28 242.91 L378.64 242.91 L380 242.91" stroke="#0626f2" stroke-width="2.3" fill="none"/>
<path d="M53 245.08 L57.1 246.4 L61.21 247.71 L65.31 249.03 L69.41 250.34 L73.51 251.66 L77.62 252.97 L81.72 254.29 L85.82 255.6 L89.93 256.92 L94.03 258.23 L98.13 259.55 L102.23 260.86 L106.34 262.18 L110.44 263.49 L114.54 264.81 L118.65 266.12 L122.75 267.44 L126.85 268.75 L130.95 270.07 L135.06 271.38" stroke="#f50000" stroke-width="2.3" fill="none" stroke-dasharray="6.5 6"/>
<path d="M135.06 271.38 L147.3 275.31 L159.55 279.23 L171.8 283.16 L184.05 287.08 L196.29 291.01 L208.54 294.93 L220.79 298.86 L233.03 302.78 L245.28 306.71 L257.53 310.63 L269.78 314.56 L282.02 318.48 L294.27 322.41 L306.52 326.33 L318.76 330.26 L331.01 334.18 L343.26 338.11 L355.51 342.03 L367.75 345.96 L380 349.88" stroke="#f50000" stroke-width="2.3" fill="none"/>
</g>
<g clip-path="url(#c2)">
<path d="M53 533.86 L54.36 533.86 L55.73 533.86 L57.09 533.86 L58.45 533.86 L59.81 533.86 L61.17 533.86 L62.54 533.86 L63.9 533.86 L65.26 533.87 L66.62 533.87 L67.99 533.87 L69.35 533.87 L70.71 533.87 L72.08 533.87 L73.44 533.87 L74.8 533.87 L76.16 533.87 L77.53 533.87 L78.89 533.87 L80.25 533.87 L81.61 533.87 L82.97 533.87 L84.34 533.88 L85.7 533.88 L87.06 533.88 L88.42 533.88 L89.79 533.88 L91.15 533.88 L92.51 533.88 L93.88 533.88 L95.24 533.88 L96.6 533.89 L97.96 533.89 L99.33 533.89 L100.69 533.89 L102.05 533.89 L103.41 533.9 L104.78 533.9 L106.14 533.9 L107.5 533.9 L108.86 533.9 L110.22 533.91 L111.59 533.91 L112.95 533.91 L114.31 533.92 L115.67 533.92 L117.04 533.92 L118.4 533.93 L119.76 533.93 L121.12 533.93 L122.49 533.94 L123.85 533.94 L125.21 533.95 L126.58 533.95 L127.94 533.96 L129.3 533.96 L130.66 533.97 L132.02 533.97 L133.39 533.98 L134.75 533.99 L136.11 533.99 L137.48 534 L138.84 534.01 L140.2 534.02 L141.56 534.02 L142.93 534.03 L144.29 534.04 L145.65 534.05 L147.01 534.06 L148.38 534.07 L149.74 534.08 L151.1 534.09 L152.46 534.1 L153.82 534.12 L155.19 534.13 L156.55 534.14 L157.91 534.16 L159.27 534.17 L160.64 534.19 L162 534.2 L163.36 534.22 L164.72 534.24 L166.09 534.25 L167.45 534.27 L168.81 534.29 L170.18 534.31 L171.54 534.33 L172.9 534.35 L174.26 534.38 L175.62 534.4 L176.99 534.43 L178.35 534.45 L179.71 534.48 L181.08 534.5 L182.44 534.53 L183.8 534.56 L185.16 534.59 L186.53 534.62 L187.89 534.65 L189.25 534.69 L190.61 534.72 L191.97 534.76 L193.34 534.8 L194.7 534.83 L196.06 534.87 L197.42 534.91 L198.79 534.96 L200.15 535 L201.51 535.04 L202.88 535.09 L204.24 535.14 L205.6 535.19 L206.96 535.24 L208.33 535.29 L209.69 535.34 L211.05 535.39 L212.41 535.45 L213.78 535.51 L215.14 535.57 L216.5 535.63 L217.86 535.69 L219.22 535.76 L220.59 535.82 L221.95 535.89 L223.31 535.96 L224.67 536.03 L226.04 536.1 L227.4 536.18 L228.76 536.26 L230.12 536.34 L231.49 536.42 L232.85 536.5 L234.21 536.59 L235.58 536.67 L236.94 536.76 L238.3 536.85 L239.66 536.95 L241.03 537.04 L242.39 537.14 L243.75 537.24 L245.11 537.35 L246.47 537.45 L247.84 537.56 L249.2 537.67 L250.56 537.78 L251.92 537.89 L253.29 538.01 L254.65 538.13 L256.01 538.25 L257.38 538.38 L258.74 538.51 L260.1 538.64 L261.46 538.77 L262.83 538.91 L264.19 539.04 L265.55 539.19 L266.91 539.33 L268.27 539.48 L269.64 539.63 L271 539.78 L272.36 539.94 L273.73 540.09 L275.09 540.26 L276.45 540.42 L277.81 540.59 L279.18 540.76 L280.54 540.93 L281.9 541.11 L283.26 541.29 L284.62 541.47 L285.99 541.66 L287.35 541.85 L288.71 542.04 L290.07 542.24 L291.44 542.44 L292.8 542.64 L294.16 542.85 L295.52 543.05 L296.89 543.27 L298.25 543.48 L299.61 543.7 L300.98 543.92 L302.34 544.15 L303.7 544.38 L305.06 544.61 L306.43 544.85 L307.79 545.09 L309.15 545.33 L310.51 545.57 L311.88 545.82 L313.24 546.08 L314.6 546.33 L315.96 546.59 L317.32 546.85 L318.69 547.12 L320.05 547.39 L321.41 547.66 L322.78 547.94 L324.14 548.22 L325.5 548.5 L326.86 548.78 L328.22 549.07 L329.59 549.37 L330.95 549.66 L332.31 549.96 L333.68 550.26 L335.04 550.57 L336.4 550.87 L337.76 551.19 L339.12 551.5 L340.49 551.82 L341.85 552.14 L343.21 552.46 L344.57 552.79 L345.94 553.12 L347.3 553.45 L348.66 553.78 L350.03 554.12 L351.39 554.46 L352.75 554.81 L354.11 555.15 L355.47 555.5 L356.84 555.86 L358.2 556.21 L359.56 556.57 L360.93 556.93 L362.29 557.29 L363.65 557.66 L365.01 558.03 L366.38 558.4 L367.74 558.77 L369.1 559.14 L370.46 559.52 L371.82 559.9 L373.19 560.28 L374.55 560.67 L375.91 561.06 L377.28 561.45 L378.64 561.84 L380 562.23" stroke="#34f214" stroke-width="2.3" fill="none" stroke-dasharray="1 4 6.3 4"/>
<path d="M53 522.23 L54.36 522.24 L55.73 522.24 L57.09 522.24 L58.45 522.24 L59.81 522.24 L61.17 522.24 L62.54 522.24 L63.9 522.24 L65.26 522.24 L66.62 522.24 L67.99 522.24 L69.35 522.24 L70.71 522.25 L72.08 522.25 L73.44 522.25 L74.8 522.25 L76.16 522.25 L77.53 522.25 L78.89 522.25 L80.25 522.25 L81.61 522.26 L82.97 522.26 L84.34 522.26 L85.7 522.26 L87.06 522.26 L88.42 522.27 L89.79 522.27 L91.15 522.27 L92.51 522.27 L93.88 522.28 L95.24 522.28 L96.6 522.28 L97.96 522.28 L99.33 522.29 L100.69 522.29 L102.05 522.29 L103.41 522.3 L104.78 522.3 L106.14 522.31 L107.5 522.31 L108.86 522.32 L110.22 522.32 L111.59 522.33 L112.95 522.33 L114.31 522.34 L115.67 522.34 L117.04 522.35 L118.4 522.36 L119.76 522.36 L121.12 522.37 L122.49 522.38 L123.85 522.39 L125.21 522.4 L126.58 522.4 L127.94 522.41 L129.3 522.42 L130.66 522.43 L132.02 522.45 L133.39 522.46 L134.75 522.47 L136.11 522.48 L137.48 522.5 L138.84 522.51 L140.2 522.52 L141.56 522.54 L142.93 522.56 L144.29 522.57 L145.65 522.59 L147.01 522.61 L148.38 522.63 L149.74 522.65 L151.1 522.67 L152.46 522.69 L153.82 522.71 L155.19 522.74 L156.55 522.76 L157.91 522.79 L159.27 522.82 L160.64 522.84 L162 522.87 L163.36 522.9 L164.72 522.94 L166.09 522.97 L167.45 523 L168.81 523.04 L170.18 523.08 L171.54 523.12 L172.9 523.16 L174.26 523.2 L175.62 523.24 L176.99 523.29 L178.35 523.33 L179.71 523.38 L181.08 523.43 L182.44 523.48 L183.8 523.54 L185.16 523.59 L186.53 523.65 L187.89 523.71 L189.25 523.77 L190.61 523.83 L191.97 523.9 L193.34 523.96 L194.7 524.03 L196.06 524.1 L197.42 524.18 L198.79 524.25 L200.15 524.33 L201.51 524.41 L202.88 524.49 L204.24 524.58 L205.6 524.66 L206.96 524.75 L208.33 524.84 L209.69 524.94 L211.05 525.04 L212.41 525.13 L213.78 525.24 L215.14 525.34 L216.5 525.45 L217.86 525.56 L219.22 525.67 L220.59 525.78 L221.95 525.9 L223.31 526.02 L224.67 526.15 L226.04 526.27 L227.4 526.4 L228.76 526.53 L230.12 526.67 L231.49 526.81 L232.85 526.95 L234.21 527.09 L235.58 527.24 L236.94 527.39 L238.3 527.54 L239.66 527.7 L241.03 527.85 L242.39 528.02 L243.75 528.18 L245.11 528.35 L246.47 528.52 L247.84 528.7 L249.2 528.88 L250.56 529.06 L251.92 529.24 L253.29 529.43 L254.65 529.62 L256.01 529.82 L257.38 530.02 L258.74 530.22 L260.1 530.42 L261.46 530.63 L262.83 530.84 L264.19 531.06 L265.55 531.28 L266.91 531.5 L268.27 531.72 L269.64 531.95 L271 532.19 L272.36 532.42 L273.73 532.66 L275.09 532.9 L276.45 533.15 L277.81 533.4 L279.18 533.65 L280.54 533.91 L281.9 534.17 L283.26 534.43 L284.62 534.7 L285.99 534.97 L287.35 535.24 L288.71 535.52 L290.07 535.8 L291.44 536.08 L292.8 536.37 L294.16 536.66 L295.52 536.95 L296.89 537.24 L298.25 537.54 L299.61 537.85 L300.98 538.15 L302.34 538.46 L303.7 538.77 L305.06 539.09 L306.43 539.41 L307.79 539.73 L309.15 540.05 L310.51 540.38 L311.88 540.71 L313.24 541.05 L314.6 541.38 L315.96 541.72 L317.32 542.06 L318.69 542.41 L320.05 542.76 L321.41 543.11 L322.78 543.46 L324.14 543.82 L325.5 544.18 L326.86 544.54 L328.22 544.9 L329.59 545.27 L330.95 545.64 L332.31 546.01 L333.68 546.38 L335.04 546.76 L336.4 547.14 L337.76 547.52 L339.12 547.9 L340.49 548.29 L341.85 548.68 L343.21 549.07 L344.57 549.46 L345.94 549.86 L347.3 550.25 L348.66 550.65 L350.03 551.05 L351.39 551.46 L352.75 551.86 L354.11 552.27 L355.47 552.68 L356.84 553.09 L358.2 553.5 L359.56 553.91 L360.93 554.33 L362.29 554.75 L363.65 555.17 L365.01 555.59 L366.38 556.01 L367.74 556.44 L369.1 556.86 L370.46 557.29 L371.82 557.72 L373.19 558.15 L374.55 558.58 L375.91 559.02 L377.28 559.45 L378.64 559.89 L380 560.32" stroke="#34f214" stroke-width="2.3" fill="none" stroke-dasharray="6.2 6.2" stroke-dashoffset="-2.3"/>
<path d="M53 511.46 L54.36 511.46 L55.73 511.46 L57.09 511.46 L58.45 511.46 L59.81 511.46 L61.17 511.46 L62.54 511.46 L63.9 511.47 L65.26 511.47 L66.62 511.47 L67.99 511.47 L69.35 511.47 L70.71 511.47 L72.08 511.48 L73.44 511.48 L74.8 511.48 L76.16 511.48 L77.53 511.49 L78.89 511.49 L80.25 511.49 L81.61 511.49 L82.97 511.5 L84.34 511.5 L85.7 511.5 L87.06 511.51 L88.42 511.51 L89.79 511.52 L91.15 511.52 L92.51 511.52 L93.88 511.53 L95.24 511.53 L96.6 511.54 L97.96 511.54 L99.33 511.55 L100.69 511.56 L102.05 511.56 L103.41 511.57 L104.78 511.58 L106.14 511.59 L107.5 511.59 L108.86 511.6 L110.22 511.61 L111.59 511.62 L112.95 511.63 L114.31 511.64 L115.67 511.65 L117.04 511.66 L118.4 511.67 L119.76 511.69 L121.12 511.7 L122.49 511.71 L123.85 511.73 L125.21 511.75 L126.58 511.76 L127.94 511.78 L129.3 511.8 L130.66 511.82 L132.02 511.83 L133.39 511.86 L134.75 511.88 L136.11 511.9 L137.48 511.92 L138.84 511.95 L140.2 511.97 L141.56 512 L142.93 512.03 L144.29 512.06 L145.65 512.09 L147.01 512.13 L148.38 512.16 L149.74 512.2 L151.1 512.23 L152.46 512.27 L153.82 512.31 L155.19 512.35 L156.55 512.4 L157.91 512.44 L159.27 512.49 L160.64 512.54 L162 512.59 L163.36 512.65 L164.72 512.7 L166.09 512.76 L167.45 512.82 L168.81 512.89 L170.18 512.95 L171.54 513.02 L172.9 513.09 L174.26 513.16 L175.62 513.24 L176.99 513.31 L178.35 513.4 L179.71 513.48 L181.08 513.56 L182.44 513.65 L183.8 513.74 L185.16 513.84 L186.53 513.94 L187.89 514.04 L189.25 514.14 L190.61 514.25 L191.97 514.36 L193.34 514.47 L194.7 514.59 L196.06 514.71 L197.42 514.83 L198.79 514.95 L200.15 515.08 L201.51 515.22 L202.88 515.35 L204.24 515.49 L205.6 515.63 L206.96 515.78 L208.33 515.93 L209.69 516.08 L211.05 516.24 L212.41 516.4 L213.78 516.56 L215.14 516.73 L216.5 516.9 L217.86 517.08 L219.22 517.26 L220.59 517.44 L221.95 517.62 L223.31 517.81 L224.67 518.01 L226.04 518.2 L227.4 518.4 L228.76 518.61 L230.12 518.82 L231.49 519.03 L232.85 519.24 L234.21 519.46 L235.58 519.68 L236.94 519.91 L238.3 520.14 L239.66 520.37 L241.03 520.61 L242.39 520.85 L243.75 521.1 L245.11 521.35 L246.47 521.6 L247.84 521.85 L249.2 522.11 L250.56 522.38 L251.92 522.64 L253.29 522.91 L254.65 523.18 L256.01 523.46 L257.38 523.74 L258.74 524.03 L260.1 524.31 L261.46 524.6 L262.83 524.9 L264.19 525.2 L265.55 525.5 L266.91 525.8 L268.27 526.11 L269.64 526.42 L271 526.73 L272.36 527.05 L273.73 527.37 L275.09 527.69 L276.45 528.02 L277.81 528.35 L279.18 528.68 L280.54 529.02 L281.9 529.36 L283.26 529.7 L284.62 530.05 L285.99 530.39 L287.35 530.74 L288.71 531.1 L290.07 531.45 L291.44 531.81 L292.8 532.17 L294.16 532.54 L295.52 532.9 L296.89 533.27 L298.25 533.64 L299.61 534.02 L300.98 534.4 L302.34 534.77 L303.7 535.16 L305.06 535.54 L306.43 535.93 L307.79 536.31 L309.15 536.71 L310.51 537.1 L311.88 537.49 L313.24 537.89 L314.6 538.29 L315.96 538.69 L317.32 539.1 L318.69 539.5 L320.05 539.91 L321.41 540.32 L322.78 540.73 L324.14 541.14 L325.5 541.56 L326.86 541.97 L328.22 542.39 L329.59 542.81 L330.95 543.23 L332.31 543.66 L333.68 544.08 L335.04 544.51 L336.4 544.94 L337.76 545.37 L339.12 545.8 L340.49 546.23 L341.85 546.67 L343.21 547.1 L344.57 547.54 L345.94 547.98 L347.3 548.42 L348.66 548.86 L350.03 549.3 L351.39 549.74 L352.75 550.19 L354.11 550.63 L355.47 551.08 L356.84 551.53 L358.2 551.98 L359.56 552.43 L360.93 552.88 L362.29 553.33 L363.65 553.78 L365.01 554.24 L366.38 554.69 L367.74 555.15 L369.1 555.6 L370.46 556.06 L371.82 556.52 L373.19 556.98 L374.55 557.44 L375.91 557.9 L377.28 558.36 L378.64 558.83 L380 559.29" stroke="#34f214" stroke-width="2.3" fill="none"/>
<path d="M53 481.08 L54.36 481.08 L55.73 481.08 L57.09 481.08 L58.45 481.08 L59.81 481.08 L61.17 481.08 L62.54 481.08 L63.9 481.08 L65.26 481.08 L66.62 481.08 L67.99 481.08 L69.35 481.08 L70.71 481.08 L72.08 481.08 L73.44 481.08 L74.8 481.08 L76.16 481.08 L77.53 481.08 L78.89 481.09 L80.25 481.09 L81.61 481.09 L82.97 481.09 L84.34 481.09 L85.7 481.09 L87.06 481.09 L88.42 481.09 L89.79 481.09 L91.15 481.09 L92.51 481.09 L93.88 481.09 L95.24 481.09 L96.6 481.09 L97.96 481.09 L99.33 481.09 L100.69 481.09 L102.05 481.09 L103.41 481.09 L104.78 481.09 L106.14 481.09 L107.5 481.09 L108.86 481.1 L110.22 481.1 L111.59 481.1 L112.95 481.1 L114.31 481.1 L115.67 481.1 L117.04 481.1 L118.4 481.1 L119.76 481.1 L121.12 481.11 L122.49 481.11 L123.85 481.11 L125.21 481.11 L126.58 481.11 L127.94 481.11 L129.3 481.12 L130.66 481.12 L132.02 481.12 L133.39 481.12 L134.75 481.12 L136.11 481.13 L137.48 481.13 L138.84 481.13 L140.2 481.14 L141.56 481.14 L142.93 481.14 L144.29 481.15 L145.65 481.15 L147.01 481.15 L148.38 481.16 L149.74 481.16 L151.1 481.17 L152.46 481.17 L153.82 481.18 L155.19 481.18 L156.55 481.19 L157.91 481.2 L159.27 481.2 L160.64 481.21 L162 481.22 L163.36 481.23 L164.72 481.23 L166.09 481.24 L167.45 481.25 L168.81 481.26 L170.18 481.27 L171.54 481.28 L172.9 481.3 L174.26 481.31 L175.62 481.32 L176.99 481.34 L178.35 481.35 L179.71 481.37 L181.08 481.38 L182.44 481.4 L183.8 481.42 L185.16 481.44 L186.53 481.46 L187.89 481.48 L189.25 481.51 L190.61 481.53 L191.97 481.56 L193.34 481.58 L194.7 481.61 L196.06 481.64 L197.42 481.68 L198.79 481.71 L200.15 481.75 L201.51 481.78 L202.88 481.82 L204.24 481.87 L205.6 481.91 L206.96 481.96 L208.33 482.01 L209.69 482.06 L211.05 482.11 L212.41 482.17 L213.78 482.23 L215.14 482.3 L216.5 482.36 L217.86 482.43 L219.22 482.51 L220.59 482.59 L221.95 482.67 L223.31 482.75 L224.67 482.84 L226.04 482.94 L227.4 483.04 L228.76 483.14 L230.12 483.25 L231.49 483.36 L232.85 483.48 L234.21 483.61 L235.58 483.74 L236.94 483.87 L238.3 484.01 L239.66 484.16 L241.03 484.32 L242.39 484.48 L243.75 484.64 L245.11 484.81 L246.47 484.99 L247.84 485.18 L249.2 485.37 L250.56 485.57 L251.92 485.78 L253.29 486 L254.65 486.22 L256.01 486.45 L257.38 486.69 L258.74 486.93 L260.1 487.18 L261.46 487.44 L262.83 487.71 L264.19 487.99 L265.55 488.27 L266.91 488.56 L268.27 488.86 L269.64 489.16 L271 489.47 L272.36 489.79 L273.73 490.12 L275.09 490.45 L276.45 490.79 L277.81 491.14 L279.18 491.49 L280.54 491.85 L281.9 492.22 L283.26 492.59 L284.62 492.97 L285.99 493.36 L287.35 493.75 L288.71 494.14 L290.07 494.55 L291.44 494.95 L292.8 495.37 L294.16 495.78 L295.52 496.21 L296.89 496.63 L298.25 497.06 L299.61 497.5 L300.98 497.94 L302.34 498.38 L303.7 498.83 L305.06 499.28 L306.43 499.74 L307.79 500.2 L309.15 500.66 L310.51 501.12 L311.88 501.59 L313.24 502.06 L314.6 502.53 L315.96 503.01 L317.32 503.49 L318.69 503.97 L320.05 504.45 L321.41 504.94 L322.78 505.42 L324.14 505.91 L325.5 506.4 L326.86 506.9 L328.22 507.39 L329.59 507.89 L330.95 508.38 L332.31 508.88 L333.68 509.38 L335.04 509.88 L336.4 510.39 L337.76 510.89 L339.12 511.4 L340.49 511.9 L341.85 512.41 L343.21 512.92 L344.57 513.43 L345.94 513.94 L347.3 514.45 L348.66 514.96 L350.03 515.47 L351.39 515.98 L352.75 516.49 L354.11 517.01 L355.47 517.52 L356.84 518.04 L358.2 518.55 L359.56 519.07 L360.93 519.59 L362.29 520.1 L363.65 520.62 L365.01 521.14 L366.38 521.65 L367.74 522.17 L369.1 522.69 L370.46 523.21 L371.82 523.73 L373.19 524.25 L374.55 524.77 L375.91 525.29 L377.28 525.81 L378.64 526.33 L380 526.85" stroke="#0626f2" stroke-width="2.3" fill="none"/>
<path d="M53 398.43 H129.19" stroke="#f50000" stroke-width="2.3" fill="none" stroke-dasharray="6.5 6"/>
<path d="M129.19 398.43 H380" stroke="#f50000" stroke-width="2.3" fill="none"/>
</g>
<rect x="58" y="514.6" width="86" height="76.19999999999993" fill="#fff" stroke="#000" stroke-width="1.4"/>
<path d="M64 528.3 H95.9" stroke="#0626f2" stroke-width="2.1" fill="none"/>
<text x="98.7" y="527" class="lg">ensemble–</text>
<text x="98.7" y="536.4" class="lg">correlation</text>
<path d="M64 546 H95.9" stroke="#34f214" stroke-width="2.1" fill="none"/>
<text x="98.7" y="550.3" class="lg">8 × 8 px</text>
<path d="M64 558.4 H95.9" stroke="#34f214" stroke-width="2.1" fill="none" stroke-dasharray="6.2 6.2"/>
<text x="98.7" y="562.7" class="lg">16 × 16 px</text>
<path d="M64 570.6 H95.9" stroke="#34f214" stroke-width="2.1" fill="none" stroke-dasharray="1 3.7 6.2 4.3"/>
<text x="98.7" y="574.9" class="lg">32 × 32 px</text>
<path d="M64 583.1 H95.9" stroke="#f50000" stroke-width="2.1" fill="none"/>
<text x="98.7" y="587.4" class="lg">PTV</text>
<text transform="translate(30.1 14.9) scale(0.87 1)" class="tk tkb">10</text>
<text x="40.3" y="7.9" class="sup">1</text>
<text transform="translate(30.1 52.73) scale(0.87 1)" class="tk tkb">10</text>
<text x="40.3" y="45.73" class="sup">0</text>
<text transform="translate(30.1 91.37) scale(0.87 1)" class="tk tkb">10</text>
<text x="40.3" y="84.37" class="sup">−1</text>
<text transform="translate(30.1 130) scale(0.87 1)" class="tk tkb">10</text>
<text x="40.3" y="123" class="sup">−2</text>
<text transform="translate(30.1 155.4) scale(0.87 1)" class="tk tkb">10</text>
<text x="40.3" y="148.4" class="sup">2</text>
<text transform="translate(30.1 190.33) scale(0.87 1)" class="tk tkb">10</text>
<text x="40.3" y="183.33" class="sup">1</text>
<text transform="translate(30.1 225.27) scale(0.87 1)" class="tk tkb">10</text>
<text x="40.3" y="218.27" class="sup">0</text>
<text transform="translate(30.1 260.2) scale(0.87 1)" class="tk tkb">10</text>
<text x="40.3" y="253.2" class="sup">−1</text>
<text transform="translate(30.1 295.13) scale(0.87 1)" class="tk tkb">10</text>
<text x="40.3" y="288.13" class="sup">−2</text>
<text transform="translate(30.1 330.07) scale(0.87 1)" class="tk tkb">10</text>
<text x="40.3" y="323.07" class="sup">−3</text>
<text transform="translate(30.1 365) scale(0.87 1)" class="tk tkb">10</text>
<text x="40.3" y="358" class="sup">−4</text>
<text transform="translate(30.1 390.4) scale(0.87 1)" class="tk tkb">10</text>
<text x="40.3" y="383.4" class="sup">2</text>
<text transform="translate(30.1 432.34) scale(0.87 1)" class="tk tkb">10</text>
<text x="40.3" y="425.34" class="sup">1</text>
<text transform="translate(30.1 474.28) scale(0.87 1)" class="tk tkb">10</text>
<text x="40.3" y="467.28" class="sup">0</text>
<text transform="translate(30.1 516.22) scale(0.87 1)" class="tk tkb">10</text>
<text x="40.3" y="509.22" class="sup">−1</text>
<text transform="translate(30.1 558.16) scale(0.87 1)" class="tk tkb">10</text>
<text x="40.3" y="551.16" class="sup">−2</text>
<text transform="translate(30.1 600.1) scale(0.87 1)" class="tk tkb">10</text>
<text x="40.3" y="593.1" class="sup">−3</text>
<text x="41.6" y="613" class="tk tkb2">10</text>
<text x="52.8" y="606.4" class="sup">−1</text>
<text x="153.6" y="613" class="tk tkb2">10</text>
<text x="164.8" y="606.4" class="sup">0</text>
<text x="262.4" y="613" class="tk tkb2">10</text>
<text x="273.6" y="606.4" class="sup">1</text>
<text x="372" y="613" class="tk tkb2">10</text>
<text x="383.2" y="606.4" class="sup">2</text>
<text class="al2" transform="translate(15.2 131.7) rotate(-90) scale(1.105 1)">FOV / (L·S) in m/m</text>
<text class="al2 al2b" transform="translate(18.2 293.8) rotate(-90) scale(1.11 1)">res / S in px</text>
<text class="al2 al2b" transform="translate(17.0 537.2) rotate(-90) scale(1.096 1)">DSR / L in px<tspan class="sup2" dy="-7.3">−1</tspan></text>
<text class="al3" transform="translate(148.8 631.6) scale(1.06 1)">magnification M in m/m</text>
</svg>
</body></html>
